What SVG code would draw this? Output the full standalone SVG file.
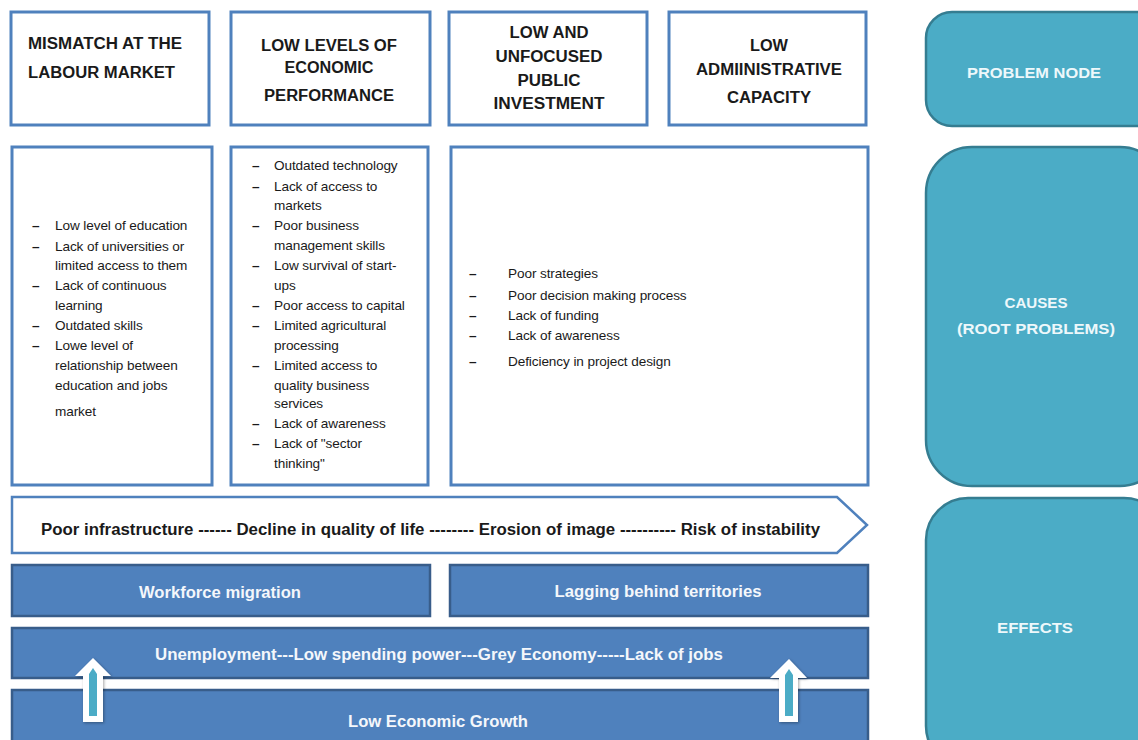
<svg xmlns="http://www.w3.org/2000/svg" width="1138" height="740" viewBox="0 0 1138 740">
<defs>
<style>
.hbox{fill:#fff;stroke:#4f81bd;stroke-width:3}
.head{font-family:"Liberation Sans",Arial,sans-serif;font-weight:bold;font-size:16px;fill:#1a1a1a}
.body{font-family:"Liberation Sans",Arial,sans-serif;font-size:13.6px;fill:#1a1a1a;letter-spacing:-0.1px}
.dash{font-weight:bold}
.side{fill:#4bacc6;stroke:#357d91;stroke-width:2.5}
.sidet{font-family:"Liberation Sans",Arial,sans-serif;font-weight:bold;font-size:15px;fill:#eef8fb;text-anchor:middle}
.bar{fill:#4f81bd;stroke:#385d8a;stroke-width:2.5}
.bart{font-family:"Liberation Sans",Arial,sans-serif;font-weight:bold;font-size:16px;fill:#f4f7fb;text-anchor:middle}
.mid{text-anchor:middle}
</style>
<filter id="sh" x="-30%" y="-30%" width="160%" height="160%">
<feDropShadow dx="1" dy="1" stdDeviation="1.5" flood-color="#000" flood-opacity="0.35"/>
</filter>
</defs>
<rect width="1138" height="740" fill="#fff"/>

<g id="problem-1">
<rect class="hbox" x="11" y="12" width="198" height="113"/>
<text class="head" x="28" y="49" textLength="154" lengthAdjust="spacingAndGlyphs">MISMATCH AT THE</text>
<text class="head" x="28" y="78" textLength="147" lengthAdjust="spacingAndGlyphs">LABOUR MARKET</text>
</g>
<g id="problem-2">
<rect class="hbox" x="231" y="12" width="199" height="113"/>
<text class="head mid" x="329" y="51" textLength="136" lengthAdjust="spacingAndGlyphs">LOW LEVELS OF</text>
<text class="head mid" x="329" y="73" textLength="89" lengthAdjust="spacingAndGlyphs">ECONOMIC</text>
<text class="head mid" x="329" y="101" textLength="130" lengthAdjust="spacingAndGlyphs">PERFORMANCE</text>
</g>
<g id="problem-3">
<rect class="hbox" x="449" y="12" width="198" height="113"/>
<text class="head mid" x="549" y="38" textLength="79" lengthAdjust="spacingAndGlyphs">LOW AND</text>
<text class="head mid" x="549" y="62" textLength="107" lengthAdjust="spacingAndGlyphs">UNFOCUSED</text>
<text class="head mid" x="549" y="86" textLength="63" lengthAdjust="spacingAndGlyphs">PUBLIC</text>
<text class="head mid" x="549" y="109" textLength="111" lengthAdjust="spacingAndGlyphs">INVESTMENT</text>
</g>
<g id="problem-4">
<rect class="hbox" x="669" y="12" width="197" height="113"/>
<text class="head mid" x="769" y="51" textLength="38" lengthAdjust="spacingAndGlyphs">LOW</text>
<text class="head mid" x="769" y="75" textLength="146" lengthAdjust="spacingAndGlyphs">ADMIINISTRATIVE</text>
<text class="head mid" x="769" y="103" textLength="84" lengthAdjust="spacingAndGlyphs">CAPACITY</text>
</g>

<g id="cause-1">
<rect class="hbox" x="12" y="147" width="200" height="338"/>
<g class="body">
<text class="dash" x="32" y="230">–</text><text x="55" y="230">Low level  of education</text>
<text class="dash" x="32" y="251">–</text><text x="55" y="251">Lack of universities  or</text>
<text x="55" y="270">limited  access  to them</text>
<text class="dash" x="32" y="290">–</text><text x="55" y="290">Lack of continuous</text>
<text x="55" y="310">learning</text>
<text class="dash" x="32" y="330">–</text><text x="55" y="330">Outdated skills</text>
<text class="dash" x="32" y="350">–</text><text x="55" y="350">Lowe level of</text>
<text x="55" y="370">relationship  between</text>
<text x="55" y="390">education and jobs</text>
<text x="55" y="416">market</text>
</g>
</g>
<g id="cause-2">
<rect class="hbox" x="231" y="147" width="197" height="338"/>
<g class="body">
<text class="dash" x="252" y="170">–</text><text x="274" y="170">Outdated technology</text>
<text class="dash" x="252" y="191">–</text><text x="274" y="191">Lack of access  to</text>
<text x="274" y="210">markets</text>
<text class="dash" x="252" y="230">–</text><text x="274" y="230">Poor business</text>
<text x="274" y="250">management skills</text>
<text class="dash" x="252" y="270">–</text><text x="274" y="270">Low survival  of start-</text>
<text x="274" y="290">ups</text>
<text class="dash" x="252" y="310">–</text><text x="274" y="310">Poor access  to capital</text>
<text class="dash" x="252" y="330">–</text><text x="274" y="330">Limited agricultural</text>
<text x="274" y="350">processing</text>
<text class="dash" x="252" y="370">–</text><text x="274" y="370">Limited access  to</text>
<text x="274" y="390">quality  business</text>
<text x="274" y="408">services</text>
<text class="dash" x="252" y="428">–</text><text x="274" y="428">Lack of awareness</text>
<text class="dash" x="252" y="448">–</text><text x="274" y="448">Lack of "sector</text>
<text x="274" y="468">thinking"</text>
</g>
</g>
<g id="cause-3">
<rect class="hbox" x="451" y="147" width="417" height="338"/>
<g class="body">
<text class="dash" x="469" y="278">–</text><text x="508" y="278">Poor strategies</text>
<text class="dash" x="469" y="300">–</text><text x="508" y="300">Poor decision  making  process</text>
<text class="dash" x="469" y="320">–</text><text x="508" y="320">Lack of funding</text>
<text class="dash" x="469" y="340">–</text><text x="508" y="340">Lack of awareness</text>
<text class="dash" x="469" y="366">–</text><text x="508" y="366">Deficiency  in project design</text>
</g>
</g>

<g id="side-problem">
<rect class="side" x="926" y="12" width="240" height="114" rx="26"/>
<text class="sidet" x="1034" y="78" textLength="134" lengthAdjust="spacingAndGlyphs">PROBLEM NODE</text>
</g>
<g id="side-causes">
<rect class="side" x="926" y="147" width="240" height="339" rx="46"/>
<text class="sidet" x="1036" y="308" textLength="63" lengthAdjust="spacingAndGlyphs">CAUSES</text>
<text class="sidet" x="1036" y="334" textLength="158" lengthAdjust="spacingAndGlyphs">(ROOT PROBLEMS)</text>
</g>
<g id="side-effects">
<rect class="side" x="926" y="498" width="240" height="270" rx="42"/>
<text class="sidet" x="1035" y="633" textLength="76" lengthAdjust="spacingAndGlyphs">EFFECTS</text>
</g>

<g id="effects-chain">
<path d="M12,497 L837,497 L867,525 L837,553 L12,553 Z" fill="#fff" stroke="#4f81bd" stroke-width="2.5"/>
<text class="head" x="41" y="535" textLength="779" lengthAdjust="spacingAndGlyphs">Poor infrastructure ------ Decline in quality of life -------- Erosion of image ---------- Risk of instability</text>
</g>
<g id="workforce">
<rect class="bar" x="12" y="565" width="418" height="51"/>
<text class="bart" x="220" y="598" textLength="162" lengthAdjust="spacingAndGlyphs">Workforce migration</text>
</g>
<g id="lagging">
<rect class="bar" x="450" y="565" width="418" height="51"/>
<text class="bart" x="658" y="597" textLength="207" lengthAdjust="spacingAndGlyphs">Lagging behind territories</text>
</g>
<g id="unemployment">
<rect class="bar" x="12" y="628" width="856" height="50"/>
<text class="bart" x="439" y="660" textLength="568" lengthAdjust="spacingAndGlyphs">Unemployment---Low spending power---Grey Economy-----Lack of jobs</text>
</g>
<g id="low-growth">
<rect class="bar" x="12" y="690" width="856" height="60"/>
<text class="bart" x="438" y="727" textLength="180" lengthAdjust="spacingAndGlyphs">Low Economic Growth</text>
</g>

<g id="connectors">
<g filter="url(#sh)">
<path d="M93,658 L111,676 L103,676 L103,722 L83,722 L83,676 L75,676 Z" fill="#fff"/>
<path d="M789,659 L807,678 L798,678 L798,722 L779,722 L779,678 L770,678 Z" fill="#fff"/>
</g>
<path d="M93,668 L97,674 L97,716 L89,716 L89,674 Z" fill="#4bacc6"/>
<path d="M789,669 L793,675 L793,716 L785,716 L785,675 Z" fill="#4bacc6"/>
</g>
</svg>
